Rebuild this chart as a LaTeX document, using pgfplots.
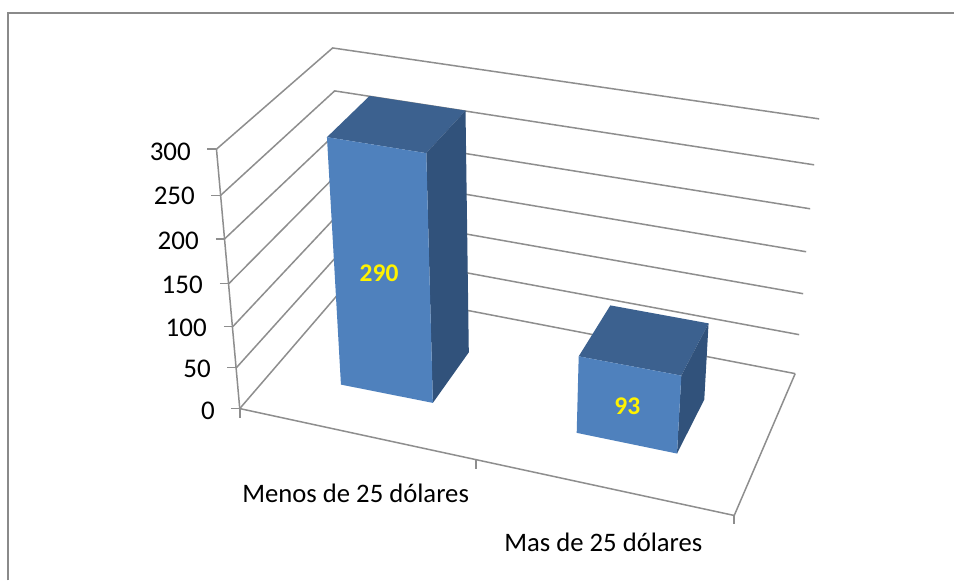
\documentclass[border=0pt]{standalone}
\usepackage{pgfplots}
\pgfplotsset{compat=1.18}
\usepackage{fontspec}
\setmainfont{Carlito}
\definecolor{front}{HTML}{4F81BD}
\definecolor{topface}{HTML}{3C618F}
\definecolor{sideface}{HTML}{31527B}
\definecolor{gridc}{HTML}{8E8E8E}
\definecolor{framec}{HTML}{8A8A8A}
\pgfplotsset{
  grid3d/.style={draw=gridc,line width=1.5pt,no markers},
  face/.style={line width=0pt,draw=none,fill=#1,no markers},
}
\begin{document}
\begin{tikzpicture}
\begin{axis}[
  scale only axis,width=955pt,height=581pt,
  xmin=0,xmax=955,ymin=0,ymax=581,y dir=reverse,
  axis lines=none,clip=false,
]
  % page and outer chart frame
  \addplot[draw=none,fill=white] coordinates {(0,0)(955,0)(955,581)(0,581)} -- cycle;
  \addplot[draw=framec,line width=2pt,no markers] coordinates {(8.5,581)(8.5,13.5)(955,13.5)};
  % back wall, value lines 300 ... 0
  \addplot[grid3d] coordinates {(216.7,149.3)(333,48)(820,119)};
  \addplot[grid3d] coordinates {(220.7,195.7)(335,91)(815,165)};
  \addplot[grid3d] coordinates {(225,239)(337,133)(811,209)};
  \addplot[grid3d] coordinates {(229,284)(339,173)(807,252)};
  \addplot[grid3d] coordinates {(233,327)(341,212)(804,294)};
  \addplot[grid3d] coordinates {(236.7,368)(343,250)(800,335)};
  \addplot[grid3d] coordinates {(240,409)(345,287)(796,374)};
  % floor and value axis
  \addplot[grid3d] coordinates {(240,409)(735,516)(796,374)};
  \addplot[grid3d] coordinates {(216.7,149.3)(240,409)};
  \addplot[grid3d] coordinates {(207.5,149.3)(216.7,149.3)};
  \addplot[grid3d] coordinates {(211.5,195.7)(220.7,195.7)};
  \addplot[grid3d] coordinates {(216,239)(225,239)};
  \addplot[grid3d] coordinates {(220,284)(229,284)};
  \addplot[grid3d] coordinates {(224,327)(233,327)};
  \addplot[grid3d] coordinates {(227.5,368)(236.7,368)};
  \addplot[grid3d] coordinates {(231,409)(240,409)};
  \addplot[grid3d] coordinates {(240,409)(240,418)};
  \addplot[grid3d] coordinates {(476.7,460)(476.7,469)};
  \addplot[grid3d] coordinates {(735,516)(735,525)};
  % bar 1, 290
  \addplot[face=topface] coordinates {(327.3,137.3)(370,96)(466,110.7)(426.7,153.3)} -- cycle;
  \addplot[face=sideface] coordinates {(426.7,153.3)(466,110.7)(469.3,352.7)(433.3,403.3)} -- cycle;
  \addplot[face=front] coordinates {(327.3,137.3)(426.7,153.3)(433.3,403.3)(341.3,385)} -- cycle;
  % bar 2, 93
  \addplot[face=topface] coordinates {(579.3,356.7)(611,305.7)(709.3,323.7)(682,376)} -- cycle;
  \addplot[face=sideface] coordinates {(682,376)(709.3,323.7)(705,400)(677.7,454)} -- cycle;
  \addplot[face=front] coordinates {(579.3,356.7)(682,376)(677.7,454)(577.3,433.3)} -- cycle;
  % texts
  \node[anchor=east,font=\fontsize{27}{27}\selectfont] at (axis cs:194.5,152) {300};
  \node[anchor=east,font=\fontsize{27}{27}\selectfont] at (axis cs:198.5,196) {250};
  \node[anchor=east,font=\fontsize{27}{27}\selectfont] at (axis cs:202.5,241) {200};
  \node[anchor=east,font=\fontsize{27}{27}\selectfont] at (axis cs:206.5,285) {150};
  \node[anchor=east,font=\fontsize{27}{27}\selectfont] at (axis cs:210.5,328) {100};
  \node[anchor=east,font=\fontsize{27}{27}\selectfont] at (axis cs:214.5,369) {50};
  \node[anchor=east,font=\fontsize{27}{27}\selectfont] at (axis cs:218.5,411) {0};
  \node[font=\fontsize{26.7}{26.7}\selectfont] at (axis cs:356,494) {Menos de 25 dólares};
  \node[font=\fontsize{26.7}{26.7}\selectfont] at (axis cs:604,543) {Mas de 25 dólares};
  \node[font=\fontsize{25.5}{25.5}\selectfont\bfseries,text=yellow] at (axis cs:379.5,274) {290};
  \node[font=\fontsize{25.5}{25.5}\selectfont\bfseries,text=yellow] at (axis cs:628,407) {93};
\end{axis}
\end{tikzpicture}
\end{document}
